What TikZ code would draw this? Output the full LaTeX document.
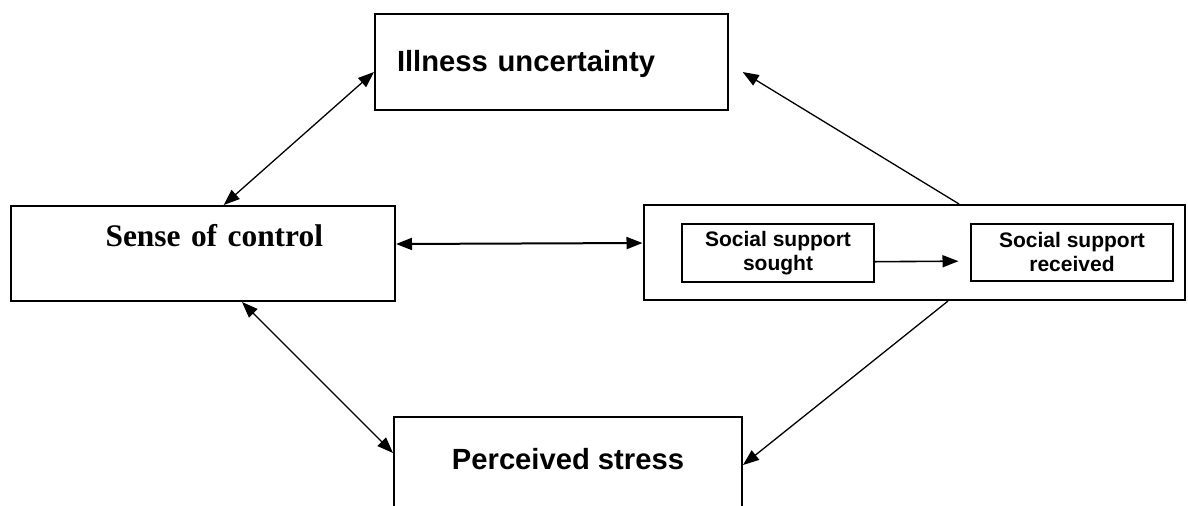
\documentclass[tikz,border=0pt]{standalone}
\usepackage{fontspec}
\setmainfont{Liberation Serif}
\setsansfont{Liberation Sans}
\usetikzlibrary{arrows.meta}
\begin{document}
\begin{tikzpicture}[x=0.5pt,y=-0.5pt,
  box/.style={draw,line width=1pt,inner ysep=0pt},
  sub/.style={draw,line width=0.8pt,inner sep=1pt,align=center,font=\sffamily\bfseries\fontsize{10.5}{12}\selectfont},
  arr/.style={line width=0.65pt,-{Triangle[length=8pt,width=6pt]}},
  darr/.style={line width=0.65pt,{Triangle[length=8pt,width=6pt]}-{Triangle[length=8pt,width=6pt]}}]
\useasboundingbox (0,0) rectangle (1188,505);
\clip (0,0) rectangle (1188,505);
\node[box,anchor=north west,text width=154.5pt,inner xsep=11pt,align=left,text height=28.5pt,text depth=19.5pt,font=\sffamily\bfseries\fontsize{14.6}{17}\selectfont] (ill) at (374,13) {Illness uncertainty};
\node[box,anchor=north west,text width=120pt,inner xsep=36pt,align=right,text height=20pt,text depth=27.5pt,font=\rmfamily\bfseries\fontsize{15.7}{19}\selectfont] (sense) at (10,205) {Sense of control};
\node[box,anchor=north west,minimum width=174pt,text height=26pt,text depth=46pt,font=\sffamily\bfseries\fontsize{14.6}{17}\selectfont] (perc) at (393,416) {Perceived stress};
\node[box,minimum width=270.75pt,minimum height=47.5pt] (soc) at (914.25,252.5) {};
\node[sub,minimum width=96pt,minimum height=28.8pt] (sought) at (778,253) {Social support\\sought};
\node[sub,minimum width=101pt,minimum height=28.3pt] (rec) at (1072,252.4) {Social support\\received};
\draw[darr] ([xshift=10.35pt]sense.north) -- ([yshift=-5pt]ill.west);
\draw[arr] ([xshift=22.4pt]soc.north) -- ([xshift=6.85pt,yshift=-5pt]ill.east);
\draw[darr,line width=1pt] ([yshift=4.75pt]sense.east) -- ([yshift=4.75pt]soc.west);
\draw[darr] ([xshift=19.5pt]sense.south) -- ([yshift=-18.5pt]perc.north west);
\draw[arr] ([xshift=16.9pt]soc.south) -- ([yshift=-24.5pt]perc.north east);
\draw[arr,line width=0.8pt,shorten >=5.85pt] ([yshift=-4.35pt]sought.east) -- ([yshift=-4.35pt]rec.west);
\end{tikzpicture}
\end{document}
